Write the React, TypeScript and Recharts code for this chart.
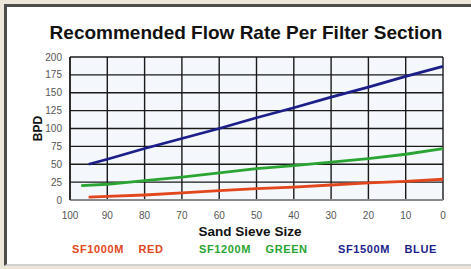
import React from 'react';
import { LineChart, Line, XAxis, YAxis, CartesianGrid } from 'recharts';

// sieve size on the x axis (reversed, 100 on the left)
const xTicks = [100, 90, 80, 70, 60, 50, 40, 30, 20, 10, 0];
const yTicks = [0, 25, 50, 75, 100, 125, 150, 175, 200];

const redSieve = [95, 90, 80, 70, 60, 50, 40, 30, 20, 10, 0];
const redBpd = [4, 5, 7, 10, 13, 16, 18, 21, 24, 26, 29];

const greenSieve = [97, 90, 80, 70, 60, 50, 40, 30, 20, 10, 0];
const greenBpd = [20, 22, 27, 32, 38, 44, 48, 53, 58, 64, 72];

const blueSieve = [95, 90, 80, 70, 60, 50, 40, 30, 20, 10, 0];
const blueBpd = [50, 57, 72, 86, 100, 115, 129, 144, 158, 173, 187];

const toPoints = (xs: number[], ys: number[]) => xs.map((x, i) => ({ x, y: ys[i] }));

const RED = '#e2461c';
const GREEN = '#2aa534';
const BLUE = '#1c1f8a';
const FONT = '"Liberation Sans", Arial, sans-serif';

const legendItems = [
    { label: 'SF1000M', word: 'RED', color: RED, left: 72 },
    { label: 'SF1200M', word: 'GREEN', color: GREEN, left: 199 },
    { label: 'SF1500M', word: 'BLUE', color: BLUE, left: 338 },
];

export default function App() {
    return (
        <div style={{ position: 'fixed', left: 0, top: 0, width: 471, height: 269, background: '#ece7d9', overflow: 'hidden', fontFamily: FONT }}>
            {/* white panel with grey frame */}
            <div style={{ position: 'absolute', left: 4, top: 4, width: 480, height: 262, background: '#ffffff', borderLeft: '3px solid #4d4d4d', borderTop: '3px solid #4d4d4d', borderBottom: '2px solid #cfcfcf', boxSizing: 'border-box' }} />

            <div style={{ position: 'absolute', left: 0, width: 492, top: 22, textAlign: 'center', fontSize: 19, fontWeight: 700, color: '#111' }}>
                Recommended Flow Rate Per Filter Section
            </div>

            <div style={{ position: 'absolute', left: 0, top: 0 }}>
                <LineChart width={471} height={269} margin={{ top: 57, right: 28, left: 30, bottom: 39 }}>
                    <CartesianGrid stroke="#1a1a1a" strokeWidth={1.4} fill="#f4f7fb" verticalValues={xTicks} horizontalValues={yTicks} />
                    <XAxis
                        type="number"
                        dataKey="x"
                        domain={[0, 100]}
                        reversed
                        ticks={xTicks}
                        interval={0}
                        height={30}
                        tickLine={false}
                        axisLine={{ stroke: '#8a8a8a', strokeWidth: 2 }}
                        tick={{ fill: '#555', fontSize: 10, fontFamily: FONT }}
                        tickMargin={6}
                        allowDuplicatedCategory={false}
                    />
                    <YAxis
                        type="number"
                        domain={[0, 200]}
                        ticks={yTicks}
                        interval={0}
                        width={40}
                        tickLine={false}
                        axisLine={{ stroke: '#1a1a1a', strokeWidth: 1.4 }}
                        tick={{ fill: '#555', fontSize: 10, fontFamily: FONT }}
                        tickMargin={2}
                        label={{ value: 'BPD', angle: -90, position: 'insideLeft', offset: 0, dx: 8, style: { fill: '#111', fontSize: 12, fontWeight: 700, fontFamily: FONT, textAnchor: 'middle' } }}
                    />
                    <Line data={toPoints(redSieve, redBpd)} dataKey="y" stroke={RED} strokeWidth={2.8} dot={false} isAnimationActive={false} />
                    <Line data={toPoints(greenSieve, greenBpd)} dataKey="y" stroke={GREEN} strokeWidth={2.8} dot={false} isAnimationActive={false} />
                    <Line data={toPoints(blueSieve, blueBpd)} dataKey="y" stroke={BLUE} strokeWidth={2.8} dot={false} isAnimationActive={false} />
                </LineChart>
            </div>

            <div style={{ position: 'absolute', left: 0, width: 500, top: 224, textAlign: 'center', fontSize: 13.5, fontWeight: 700, color: '#111' }}>
                Sand Sieve Size
            </div>

            {legendItems.map((item) => (
                <div key={item.label} style={{ position: 'absolute', left: item.left, top: 243, fontSize: 11, fontWeight: 700, color: item.color, whiteSpace: 'pre', letterSpacing: 0.6 }}>
                    {item.label + '    ' + item.word}
                </div>
            ))}
        </div>
    );
}
